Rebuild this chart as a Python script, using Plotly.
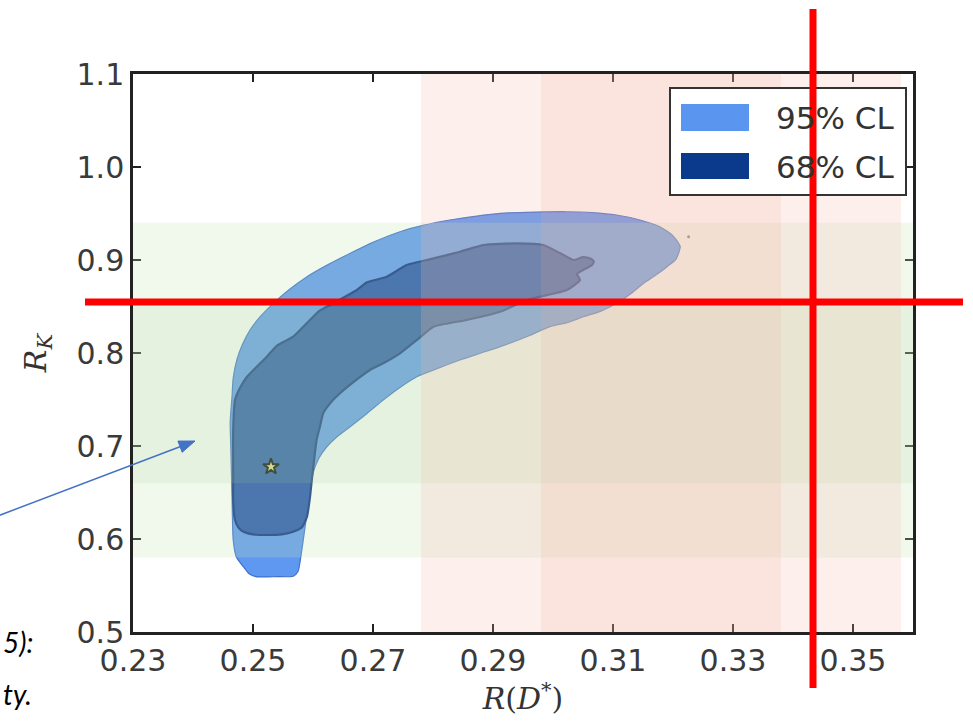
import plotly.graph_objects as go

# ---------------- data ----------------
x_ticks = [0.23, 0.25, 0.27, 0.29, 0.31, 0.33, 0.35]
x_ticklabels = ["0.23", "0.25", "0.27", "0.29", "0.31", "0.33", "0.35"]
y_ticks = [0.5, 0.6, 0.7, 0.8, 0.9, 1.0, 1.1]
y_ticklabels = ["0.5", "0.6", "0.7", "0.8", "0.9", "1.0", "1.1"]

# 95% CL region boundary (R(D*), R_K)
cl95_x = [0.3212, 0.3200, 0.3178, 0.3145, 0.3106, 0.3065, 0.3023, 0.2970, 0.2912, 0.2870,
          0.2828, 0.2785, 0.2745, 0.2700, 0.2662, 0.2625, 0.2590, 0.2560, 0.2534, 0.2512,
          0.2495, 0.2482, 0.2473, 0.2467, 0.2465, 0.2462, 0.2463, 0.2465, 0.2467, 0.2472,
          0.2484, 0.2493, 0.2505, 0.2540, 0.2567, 0.2575, 0.2578, 0.2584, 0.2590, 0.2595,
          0.2600, 0.2610, 0.2623, 0.2640, 0.2662, 0.2690, 0.2717, 0.2745, 0.2773, 0.2810,
          0.2845, 0.2880, 0.2912, 0.2956, 0.2995, 0.3025, 0.3051, 0.3080, 0.3106, 0.3130,
          0.3151, 0.3172, 0.3190, 0.3205, 0.3212]
cl95_y = [0.9143, 0.9260, 0.9358, 0.9430, 0.9484, 0.9510, 0.9519, 0.9515, 0.9502, 0.9470,
          0.9430, 0.9375, 0.9304, 0.9190, 0.9072, 0.8950, 0.8820, 0.8680, 0.8534, 0.8390,
          0.8247, 0.8085, 0.7925, 0.7730, 0.7530, 0.7260, 0.6992, 0.6455, 0.5989, 0.5810,
          0.5702, 0.5630, 0.5595, 0.5595, 0.5600, 0.5650, 0.5739, 0.6000, 0.6276, 0.6500,
          0.6706, 0.6870, 0.6992, 0.7100, 0.7208, 0.7350, 0.7495, 0.7630, 0.7745, 0.7840,
          0.7925, 0.8000, 0.8068, 0.8175, 0.8283, 0.8330, 0.8390, 0.8450, 0.8534, 0.8640,
          0.8749, 0.8840, 0.8928, 0.9010, 0.9143]

# 68% CL region boundary
cl68_x = [0.3065, 0.3068, 0.3062, 0.3050, 0.3034, 0.3012, 0.2984, 0.2940, 0.2884, 0.2845,
          0.2801, 0.2756, 0.2723, 0.2690, 0.2673, 0.2634, 0.2610, 0.2595, 0.2567, 0.2540,
          0.2523, 0.2490, 0.2478, 0.2470, 0.2467, 0.2467, 0.2467, 0.2470, 0.2476, 0.2484,
          0.2500, 0.2523, 0.2548, 0.2567, 0.2582, 0.2590, 0.2595, 0.2598, 0.2606, 0.2612,
          0.2617, 0.2630, 0.2645, 0.2670, 0.2695, 0.2720, 0.2745, 0.2775, 0.2801, 0.2856,
          0.2912, 0.2956, 0.3023, 0.3045, 0.3040, 0.3050, 0.3065]
cl68_y = [0.8946, 0.8985, 0.9015, 0.9030, 0.9000, 0.9072, 0.9161, 0.9179, 0.9161, 0.9089,
          0.9018, 0.8946, 0.8820, 0.8760, 0.8677, 0.8534, 0.8450, 0.8355, 0.8175, 0.8080,
          0.7960, 0.7745, 0.7620, 0.7495, 0.7172, 0.6634, 0.6400, 0.6204, 0.6120, 0.6078,
          0.6050, 0.6043, 0.6050, 0.6078, 0.6130, 0.6240, 0.6450, 0.6634, 0.7065, 0.7220,
          0.7352, 0.7470, 0.7567, 0.7700, 0.7817, 0.7900, 0.7997, 0.8150, 0.8283, 0.8355,
          0.8444, 0.8570, 0.8677, 0.8785, 0.8850, 0.8892, 0.8946]

best_fit_x = [0.2530]
best_fit_y = [0.6777]
stray_x = [0.3226]
stray_y = [0.925]

# experimental bands
rds_1sigma = [0.298, 0.338]
rds_2sigma = [0.278, 0.358]
rk_1sigma = [0.660, 0.850]
rk_2sigma = [0.580, 0.940]

legend_labels = ["95% CL", "68% CL"]

# ---------------- geometry helpers (pixel -> paper) ----------------
L, R, T, B = 133, 60, 74, 93
W, H = 973, 725
PW, PH = W - L - R, H - T - B


def px(xp):
    return (xp - L) / PW


def py(yp):
    return (H - B - yp) / PH


# ---------------- styles ----------------
C95 = "rgb(94,152,240)"
C68 = "rgb(38,84,172)"
EDGE95 = "rgb(62,112,205)"
EDGE68 = "rgb(12,50,130)"

fig = go.Figure()
fig.add_trace(go.Scatter(x=cl95_x, y=cl95_y, mode="lines", fill="toself",
                         fillcolor=C95, line=dict(color=EDGE95, width=1.2, shape="spline", smoothing=0.6),
                         name=legend_labels[0], hoverinfo="skip"))
fig.add_trace(go.Scatter(x=cl68_x, y=cl68_y, mode="lines", fill="toself",
                         fillcolor=C68, line=dict(color=EDGE68, width=2.2, shape="spline", smoothing=0.5),
                         name=legend_labels[1], hoverinfo="skip"))
fig.add_trace(go.Scatter(x=best_fit_x, y=best_fit_y, mode="markers",
                         marker=dict(symbol="star", size=12, color="#e8dc8a",
                                     line=dict(color="black", width=2)), hoverinfo="skip"))
fig.add_trace(go.Scatter(x=stray_x, y=stray_y, mode="markers",
                         marker=dict(size=3, color="#777"), hoverinfo="skip"))

shapes = []
# R_K bands (horizontal)
shapes.append(dict(type="rect", xref="x", yref="y", x0=0.23, x1=0.36, y0=rk_2sigma[0], y1=rk_2sigma[1],
                   fillcolor="rgba(195,232,180,0.24)", line=dict(width=0), layer="above"))
shapes.append(dict(type="rect", xref="x", yref="y", x0=0.23, x1=0.36, y0=rk_1sigma[0], y1=rk_1sigma[1],
                   fillcolor="rgba(170,205,150,0.16)", line=dict(width=0), layer="above"))
# R(D*) bands (vertical)
shapes.append(dict(type="rect", xref="x", yref="y", x0=rds_2sigma[0], x1=rds_2sigma[1], y0=0.5, y1=1.1,
                   fillcolor="rgba(245,180,170,0.22)", line=dict(width=0), layer="above"))
shapes.append(dict(type="rect", xref="x", yref="y", x0=rds_1sigma[0], x1=rds_1sigma[1], y0=0.5, y1=1.1,
                   fillcolor="rgba(240,170,150,0.16)", line=dict(width=0), layer="above"))

# manual legend
shapes.append(dict(type="rect", xref="paper", yref="paper", x0=px(670), x1=px(906), y0=py(195), y1=py(88),
                   fillcolor="white", line=dict(color="#333", width=2), layer="above"))
shapes.append(dict(type="rect", xref="paper", yref="paper", x0=px(681), x1=px(749), y0=py(131), y1=py(104),
                   fillcolor="rgb(90,149,239)", line=dict(width=0), layer="above"))
shapes.append(dict(type="rect", xref="paper", yref="paper", x0=px(681), x1=px(749), y0=py(179), y1=py(153),
                   fillcolor="rgb(11,58,140)", line=dict(width=0), layer="above"))

# red annotation lines drawn over the slide
shapes.append(dict(type="line", xref="paper", yref="paper", x0=px(85), x1=px(963), y0=py(302), y1=py(302),
                   line=dict(color="#ff0000", width=7), layer="above"))
shapes.append(dict(type="line", xref="paper", yref="paper", x0=px(813), x1=px(813), y0=py(688), y1=py(9),
                   line=dict(color="#ff0000", width=7), layer="above"))

# blue arrow (line + head) from the slide text
tail = (-5.0, 517.0)
tip = (195.0, 441.0)
dx, dy = tip[0] - tail[0], tip[1] - tail[1]
ln = (dx * dx + dy * dy) ** 0.5
ux, uy = dx / ln, dy / ln
hl, hw = 16.0, 6.0
bx, by = tip[0] - hl * ux, tip[1] - hl * uy
c1 = (bx - hw * uy, by + hw * ux)
c2 = (bx + hw * uy, by - hw * ux)
shapes.append(dict(type="line", xref="paper", yref="paper", x0=px(tail[0]), y0=py(tail[1]),
                   x1=px(bx + 2 * ux), y1=py(by + 2 * uy), line=dict(color="#4472c4", width=1.5), layer="above"))
shapes.append(dict(type="path", xref="paper", yref="paper",
                   path="M {} {} L {} {} L {} {} Z".format(px(tip[0]), py(tip[1]), px(c1[0]), py(c1[1]),
                                                          px(c2[0]), py(c2[1])),
                   fillcolor="#4472c4", line=dict(color="#4472c4", width=1), layer="above"))

annotations = []
legend_font = dict(family="DejaVu Sans", size=31, color="#333")
annotations.append(dict(xref="paper", yref="paper", x=px(774), y=py(118), text=legend_labels[0],
                        showarrow=False, xanchor="left", yanchor="middle", font=legend_font))
annotations.append(dict(xref="paper", yref="paper", x=px(774), y=py(167), text=legend_labels[1],
                        showarrow=False, xanchor="left", yanchor="middle", font=legend_font))
# slide text at the left edge
annotations.append(dict(xref="paper", yref="paper", x=px(1), y=py(642),
                        text="<i>5):</i>", showarrow=False, xanchor="left", yanchor="middle",
                        font=dict(family="Lato", size=28, color="black")))
annotations.append(dict(xref="paper", yref="paper", x=px(1), y=py(694),
                        text="<i>ty.</i>", showarrow=False, xanchor="left", yanchor="middle",
                        font=dict(family="Lato", size=28, color="black")))

tickfont = dict(family="DejaVu Sans", size=30, color="#3a3a3a")
titlefont = dict(family="DejaVu Serif", size=30, color="#333")
fig.update_layout(
    width=W, height=H,
    margin=dict(l=L, r=R, t=T, b=B),
    plot_bgcolor="white", paper_bgcolor="white",
    showlegend=False,
    shapes=shapes, annotations=annotations,
    xaxis=dict(range=[0.23, 0.36], tickvals=x_ticks, ticktext=x_ticklabels,
               ticks="inside", ticklen=8, tickwidth=1.5, tickcolor="#222",
               showline=True, linewidth=2.5, linecolor="#222", mirror="ticks",
               showgrid=False, zeroline=False, tickfont=tickfont, automargin=False,
               title=dict(text="<i>R</i>(<i>D</i><sup>*</sup>)", font=titlefont, standoff=2)),
    yaxis=dict(range=[0.5, 1.1], tickvals=y_ticks, ticktext=y_ticklabels,
               ticks="inside", ticklen=8, tickwidth=1.5, tickcolor="#222",
               showline=True, linewidth=2.5, linecolor="#222", mirror="ticks",
               showgrid=False, zeroline=False, tickfont=tickfont, automargin=False,
               title=dict(text="<i>R</i><sub><i>K</i></sub>", font=titlefont, standoff=22)),
)

fig.write_html("out.html", config={"displayModeBar": False},
               post_script="document.body.style.margin='0';document.body.style.overflow='hidden';")
